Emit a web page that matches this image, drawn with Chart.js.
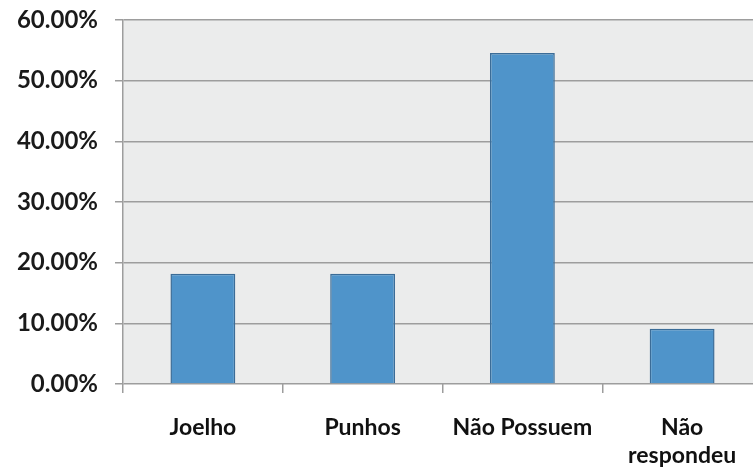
<!DOCTYPE html>
<html>
<head>
<meta charset="utf-8">
<script src="https://cdn.jsdelivr.net/npm/chart.js@4/dist/chart.umd.min.js"></script>
<style>
  html, body { margin: 0; padding: 0; background: #fff; overflow: hidden; }
  #wrap { width: 765px; height: 476px; position: relative; }
</style>
</head>
<body>
<div id="wrap"><canvas id="chart"></canvas></div>
<script>
// Categories and shares of respondents
const categories = ["Joelho", "Punhos", "Não Possuem", ["Não", "respondeu"]];
const shares = [0.1818, 0.1818, 0.5455, 0.0909];
const yTicks = [0, 0.1, 0.2, 0.3, 0.4, 0.5, 0.6];

const fontFamily = "Lato, 'Open Sans', sans-serif";

// Light grey panel behind the plot area
const plotBackground = {
  id: 'plotBackground',
  beforeDraw(chart) {
    const { ctx, chartArea: a } = chart;
    ctx.save();
    ctx.fillStyle = '#ebecec';
    ctx.fillRect(a.left, a.top, a.right - a.left, a.bottom - a.top);
    ctx.restore();
  }
};

new Chart(document.getElementById('chart'), {
  type: 'bar',
  data: {
    labels: categories,
    datasets: [{
      data: shares,
      backgroundColor: '#4f94ca',
      borderColor: '#3b6c97',
      borderWidth: 1.5,
      categoryPercentage: 1,
      barPercentage: 0.406
    }]
  },
  options: {
    responsive: true,
    maintainAspectRatio: false,
    animation: false,
    layout: { padding: { top: 20, right: 3, left: 0, bottom: 0 } },
    plugins: { legend: { display: false }, tooltip: { enabled: false } },
    scales: {
      x: {
        offset: true,
        grid: {
          offset: true,
          drawOnChartArea: false,
          drawTicks: true,
          tickLength: 9,
          color: '#9d9d9d',
          lineWidth: 1.5
        },
        border: { display: false },
        ticks: {
          color: '#111',
          padding: 21,
          maxRotation: 0,
          autoSkip: false,
          font: { family: fontFamily, size: 23, weight: 'bold', lineHeight: 1.2 }
        },
        afterFit(scale) {
          scale.height = 92;
          scale.paddingLeft = 0;
          scale.paddingRight = 0;
        }
      },
      y: {
        min: 0,
        max: 0.6,
        afterBuildTicks(scale) { scale.ticks = yTicks.map(v => ({ value: v })); },
        grid: {
          color: '#9d9d9d',
          lineWidth: 1.5,
          drawTicks: true,
          tickLength: 8
        },
        border: { display: true, color: '#9d9d9d', width: 1.5 },
        ticks: {
          color: '#1a1a1a',
          padding: 17,
          callback: v => (v * 100).toFixed(2) + '%',
          font: { family: fontFamily, size: 24, weight: 'bold' }
        },
        afterFit(scale) {
          scale.width = 123;
          scale.paddingTop = 0;
          scale.paddingBottom = 0;
        }
      }
    }
  },
  plugins: [plotBackground]
});
</script>
</body>
</html>
